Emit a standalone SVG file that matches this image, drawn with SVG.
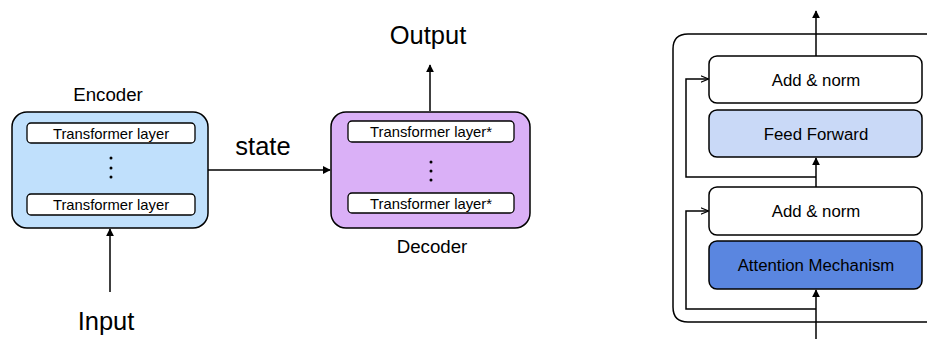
<svg xmlns="http://www.w3.org/2000/svg" width="927" height="339" viewBox="0 0 927 339">
<defs>
<marker id="ah" viewBox="0 0 10 10" refX="9" refY="5" markerWidth="8" markerHeight="8" markerUnits="userSpaceOnUse" orient="auto">
<path d="M0,0 L10,5 L0,10 Z" fill="#000"/>
</marker>
<marker id="ao" viewBox="0 0 10 10" refX="9" refY="5" markerWidth="8" markerHeight="8" markerUnits="userSpaceOnUse" orient="auto">
<path d="M0,1 L10,5 L0,9" fill="none" stroke="#000" stroke-width="1.5"/>
</marker>
</defs>
<style>
text{font-family:"Liberation Sans",Arial,sans-serif;fill:#000;}
.big{font-size:25.5px;}
.lbl{font-size:18.7px;}
.small{font-size:14.8px;}
.mid{font-size:16.8px;}
.box{stroke:#000;stroke-width:1.5;}
.inner{fill:#fff;stroke:#000;stroke-width:1.3;}
.ln{fill:none;stroke:#000;stroke-width:1.5;}
</style>
<g id="encoder">
<rect class="box" x="12" y="112" width="196" height="116" rx="15" fill="#c0e0fc"/>
<rect class="inner" x="27" y="123" width="168" height="20" rx="4"/>
<text class="small" x="111" y="138.5" text-anchor="middle">Transformer layer</text>
<circle cx="111" cy="158" r="1.5"/><circle cx="111" cy="168" r="1.5"/><circle cx="111" cy="177" r="1.5"/>
<rect class="inner" x="27" y="194" width="168" height="21" rx="4"/>
<text class="small" x="111" y="210" text-anchor="middle">Transformer layer</text>
<text class="lbl" x="108" y="101" text-anchor="middle">Encoder</text>
</g>
<g id="decoder">
<rect class="box" x="331" y="112" width="199" height="116" rx="15" fill="#dab0f7"/>
<rect class="inner" x="348" y="121" width="166" height="21" rx="4"/>
<text class="small" x="431" y="137" text-anchor="middle">Transformer layer*</text>
<circle cx="431" cy="162" r="1.5"/><circle cx="431" cy="171" r="1.5"/><circle cx="431" cy="180" r="1.5"/>
<rect class="inner" x="348" y="193" width="166" height="20" rx="4"/>
<text class="small" x="431" y="208.5" text-anchor="middle">Transformer layer*</text>
<text class="lbl" x="432" y="253" text-anchor="middle">Decoder</text>
</g>
<g id="labels">
<text class="big" x="263" y="155" text-anchor="middle">state</text>
<text class="big" x="428" y="44" text-anchor="middle">Output</text>
<text class="big" x="106" y="330" text-anchor="middle">Input</text>
</g>
<g id="block">
<path class="ln" d="M927,34 L688,34 Q673,34 673,49 L673,307 Q673,322 688,322 L927,322"/>
</g>
<g id="addnorm2">
<rect class="box" x="709" y="56" width="213" height="47" rx="8" fill="#fff"/>
<text class="mid" x="816" y="86" text-anchor="middle">Add &amp; norm</text>
</g>
<g id="feedforward">
<rect class="box" x="709" y="110" width="213" height="47" rx="8" fill="#c9d9f7"/>
<text class="mid" x="816" y="140" text-anchor="middle">Feed Forward</text>
</g>
<g id="addnorm1">
<rect class="box" x="709" y="187" width="213" height="48" rx="8" fill="#fff"/>
<text class="mid" x="816" y="217" text-anchor="middle">Add &amp; norm</text>
</g>
<g id="attention">
<rect class="box" x="709" y="241" width="213" height="48" rx="8" fill="#5a86e0"/>
<text class="mid" x="816" y="271" text-anchor="middle">Attention Mechanism</text>
</g>
<g id="connectors">
<line class="ln" x1="208" y1="170" x2="330" y2="170" marker-end="url(#ah)"/>
<line class="ln" x1="110" y1="292" x2="110" y2="229" marker-end="url(#ah)"/>
<line class="ln" x1="430" y1="111" x2="430" y2="65" marker-end="url(#ah)"/>
<line class="ln" x1="816" y1="56" x2="816" y2="11" marker-end="url(#ah)"/>
<line class="ln" x1="816" y1="339" x2="816" y2="290" marker-end="url(#ah)"/>
<line class="ln" x1="816" y1="187" x2="816" y2="158" marker-end="url(#ah)"/>
<polyline class="ln" points="816,309 686,309 686,211 708,211" marker-end="url(#ao)"/>
<polyline class="ln" points="816,177 686,177 686,79 708,79" marker-end="url(#ao)"/>
</g>
</svg>
